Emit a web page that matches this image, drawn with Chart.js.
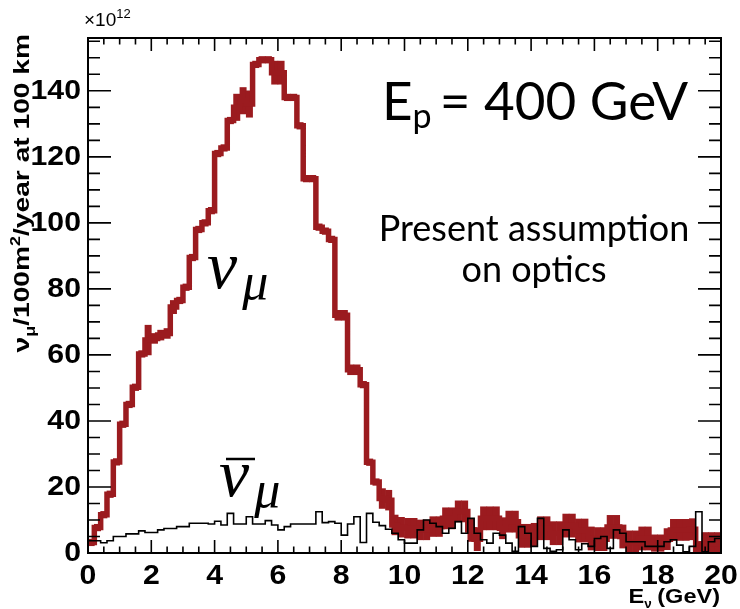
<!DOCTYPE html>
<html>
<head>
<meta charset="utf-8">
<script src="https://cdn.jsdelivr.net/npm/chart.js@4.4.1/dist/chart.umd.min.js"></script>
<style>
  html, body { margin: 0; padding: 0; background: #fff; }
</style>
</head>
<body>
<canvas id="fluxChart" width="740" height="609"></canvas>
<script>
// 100 bins of 0.2 GeV from 0 to 20 GeV
const binEdges = Array.from({ length: 101 }, (_, i) => Math.round(i * 2) / 10);

// nu_mu flux per bin (x10^12 / 100 m^2 / year at 100 km)
const numuFlux = [
  3.2, 7.7, 11.6, 17.8, 27.6, 39, 45, 50.2, 60.3, 64.5,
  65, 66, 66.5, 74.5, 76.5, 80.5, 89.5, 98, 100, 103.7,
  121, 122.7, 131, 135, 137, 136, 148, 149.4, 149.4, 145.5,
  145.5, 138, 138, 129.4, 113.4, 113.4, 98.7, 97.5, 95, 72,
  72, 55.5, 55.5, 51, 27.5, 21.5, 16.5, 16, 8.5, 7.8,
  7.5, 7.5, 7, 7, 8, 8, 10.5, 10.5, 12.6, 12.6,
  7, 4.2, 10.5, 10.5, 10.5, 7.5, 9.5, 9.5, 5.2, 5.2,
  5.5, 7.5, 7.5, 6, 6, 8.3, 8.3, 6.8, 6.8, 4.4,
  4.2, 4.2, 7.9, 7.9, 5, 3.2, 3.2, 4.4, 4.4, 3,
  3, 4.2, 7, 7, 7, 7.2, 1, 2.7, 2.7, 2.7
];

// half height of the red error boxes
const numuErr = [
  1, 1, 1, 1, 1, 1, 1, 1, 1, 4.5,
  1.5, 1.5, 1.5, 2, 1, 1, 1, 1, 1, 1,
  1, 1, 1, 4, 4, 4, 1, 1, 1, 3.5,
  3.5, 1, 1, 1, 1, 1, 1, 1, 1, 1.5,
  1.5, 1.5, 1.5, 1, 1, 1, 3, 3, 3, 3,
  3, 3, 3, 3, 3, 3, 3.2, 3.2, 3.2, 3.2,
  3.5, 3.5, 3.5, 3.5, 3.5, 3.2, 3.2, 3.2, 3.5, 3.5,
  3.5, 3.5, 3.5, 3.5, 3.5, 3.5, 3.5, 3.5, 3.5, 3.5,
  3.5, 3.5, 3.5, 3.5, 3.5, 3.5, 3.5, 3.5, 3.5, 2.5,
  2.5, 3.2, 3.2, 3.2, 3.2, 3.2, 2.5, 3.5, 3.5, 3.5
];

// anti nu_mu flux per bin
const antiNumuFlux = [
  3.7, 3.7, 3.1, 3.7, 5, 5, 5.8, 5.8, 6.7, 6.2,
  6.2, 7, 7.4, 7.4, 8, 8, 9, 9, 9, 8.8,
  9.6, 8.5, 12, 8.8, 8.8, 11, 8.8, 8.8, 9.8, 8.5,
  7, 8, 8.8, 8.8, 8.8, 8.8, 12.5, 9.2, 9.5, 9,
  5.4, 8.8, 11, 3.2, 12, 9.3, 8.3, 7.2, 6, 4,
  3, 3, 7, 10, 9, 8, 6, 7.5, 9.5, 6,
  10.5, 6, 4, 3, 6, 5.4, 3, 0.5, 8, 6,
  2, 10.5, 1.4, 0.5, 1, 7, 4, 1, 2.8, 2,
  4.4, 5, 1.4, 7, 6, 3.4, 3.4, 3.4, 2, 2,
  2, 3.4, 4, 2.4, 0.4, 2, 12.5, 0.4, 3.4, 4.4
];

const RED = "#9b1b1f";
const SANS = "'Liberation Sans', Arial, sans-serif";
const SERIF = "'Liberation Serif', 'DejaVu Serif', serif";
const GILL = "Lato, 'Open Sans', sans-serif";
const TICK_FONT = "bold 27px " + SANS;

function stepPoints(values) {
  const pts = values.map((v, i) => ({ x: binEdges[i], y: v }));
  pts.push({ x: binEdges[values.length], y: values[values.length - 1] });
  return pts;
}

const errorBoxes = numuFlux.map((v, i) => ({
  x: (binEdges[i] + binEdges[i + 1]) / 2,
  y: [Math.max(0, v - numuErr[i]), v + numuErr[i]]
}));

function drawParts(ctx, parts, x, y) {
  let cx = x;
  parts.forEach(p => {
    ctx.font = p.font;
    ctx.fillText(p.t, cx, y + (p.dy || 0));
    cx += ctx.measureText(p.t).width + (p.gap || 0);
  });
  return cx - x;
}

function partsWidth(ctx, parts) {
  let w = 0;
  parts.forEach(p => { ctx.font = p.font; w += ctx.measureText(p.t).width + (p.gap || 0); });
  return w;
}

// the original axis font is a wide bold sans, so stretch it a little
function wideText(ctx, text, x, y) {
  ctx.save();
  ctx.translate(x, y);
  ctx.scale(1.12, 1);
  ctx.fillText(text, 0, 0);
  ctx.restore();
}

const frameAndText = {
  id: "frameAndText",
  afterDatasetsDraw(chart) {
    const { ctx, chartArea: a, scales: { x, y } } = chart;
    ctx.save();
    ctx.strokeStyle = "#000";
    ctx.fillStyle = "#000";

    // ticks on all four sides, pointing inwards
    ctx.lineWidth = 1.6;
    ctx.beginPath();
    for (let k = 0; k <= 40; k++) {
      const px = x.getPixelForValue(k * 0.5);
      const len = k % 4 === 0 ? 13 : 6.5;
      ctx.moveTo(px, a.bottom); ctx.lineTo(px, a.bottom - len);
      ctx.moveTo(px, a.top); ctx.lineTo(px, a.top + len);
    }
    for (let k = 0; k * 5 <= y.max; k++) {
      const py = y.getPixelForValue(k * 5);
      const len = k % 4 === 0 ? 23 : 12;
      ctx.moveTo(a.left, py); ctx.lineTo(a.left + len, py);
      ctx.moveTo(a.right, py); ctx.lineTo(a.right - len, py);
    }
    ctx.stroke();
    ctx.lineWidth = 2;
    ctx.strokeRect(a.left, a.top, a.right - a.left, a.bottom - a.top);

    // tick labels from the scales' own ticks
    ctx.font = TICK_FONT;
    ctx.textAlign = "right";
    ctx.textBaseline = "middle";
    y.ticks.forEach(t => wideText(ctx, String(t.value), a.left - 7, y.getPixelForValue(t.value) + 1));
    ctx.textAlign = "center";
    ctx.textBaseline = "top";
    x.ticks.forEach(t => wideText(ctx, String(t.value), x.getPixelForValue(t.value), a.bottom + 10));

    ctx.textBaseline = "alphabetic";
    ctx.textAlign = "left";

    // exponent
    drawParts(ctx, [
      { t: "\u00d710", font: "19px " + SANS },
      { t: "12", font: "13px " + SANS, dy: -8 }
    ], a.left - 4, 26);

    // y axis title, stretched along the text like the original
    const yTitle = [
      { t: "\u03bd", font: "bold 22px " + SANS },
      { t: "\u03bc", font: "bold 14px " + SANS, dy: 6 },
      { t: "/100m", font: "bold 22px " + SANS },
      { t: "2", font: "bold 14px " + SANS, dy: -9 },
      { t: "/year at 100 km", font: "bold 22px " + SANS }
    ];
    const stretch = 1.28;
    const yw = partsWidth(ctx, yTitle) * stretch;
    ctx.save();
    ctx.translate(29, a.top - 4 + yw);
    ctx.rotate(-Math.PI / 2);
    ctx.scale(stretch, 1);
    drawParts(ctx, yTitle, 0, 0);
    ctx.restore();

    // x axis title
    const xTitle = [
      { t: "E", font: "bold 21px " + SANS },
      { t: "\u03bd", font: "bold 12px " + SANS, dy: 5, gap: 5 },
      { t: "(GeV)", font: "bold 21px " + SANS }
    ];
    const xw = partsWidth(ctx, xTitle) * 1.12;
    ctx.save();
    ctx.translate(a.right - xw - 1, 603);
    ctx.scale(1.12, 1);
    drawParts(ctx, xTitle, 0, 0);
    ctx.restore();

    // beam energy label
    drawParts(ctx, [
      { t: "E", font: "53px " + GILL },
      { t: "p", font: "34px " + GILL, dy: 8, gap: 8 },
      { t: "= 400 GeV", font: "53px " + GILL }
    ], 382, 120);

    ctx.textAlign = "center";
    ctx.font = "36px " + GILL;
    ctx.fillText("Present assumption", 534, 241);
    ctx.fillText("on optics", 534, 282);
    ctx.textAlign = "left";

    // curve labels
    drawParts(ctx, [
      { t: "\u03bd", font: "italic 68px " + SERIF, gap: 5 },
      { t: "\u03bc", font: "italic 52px " + SERIF, dy: 11 }
    ], 207, 288);
    drawParts(ctx, [
      { t: "\u03bd", font: "italic 68px " + SERIF, gap: 5 },
      { t: "\u03bc", font: "italic 52px " + SERIF, dy: 11 }
    ], 219, 496);
    ctx.lineWidth = 2.5;
    ctx.beginPath();
    ctx.moveTo(226, 459);
    ctx.lineTo(255, 459);
    ctx.stroke();

    ctx.restore();
  }
};

const ctx = document.getElementById("fluxChart").getContext("2d");

new Chart(ctx, {
  type: "bar",
  data: {
    datasets: [
      {
        type: "line",
        label: "anti-numu",
        data: stepPoints(antiNumuFlux),
        stepped: true,
        borderColor: "#000",
        borderWidth: 1.6,
        pointRadius: 0,
        fill: false,
        order: 0
      },
      {
        type: "line",
        label: "numu",
        data: stepPoints(numuFlux),
        stepped: true,
        borderColor: RED,
        borderWidth: 5.5,
        pointRadius: 0,
        fill: false,
        order: 1
      },
      {
        type: "bar",
        label: "numu errors",
        data: errorBoxes,
        backgroundColor: RED,
        borderWidth: 0,
        barPercentage: 1,
        categoryPercentage: 1,
        order: 2
      }
    ]
  },
  options: {
    responsive: false,
    animation: false,
    devicePixelRatio: 1,
    layout: { padding: { left: 0, right: 19, top: 38, bottom: 0 } },
    plugins: {
      legend: { display: false },
      tooltip: { enabled: false }
    },
    scales: {
      x: {
        type: "linear",
        min: 0,
        max: 20,
        offset: false,
        grid: { display: false, drawTicks: false },
        border: { display: false },
        ticks: { stepSize: 2, includeBounds: false, display: false },
        afterFit(scale) { scale.height = 56; }
      },
      y: {
        min: 0,
        max: 156,
        grid: { display: false, drawTicks: false },
        border: { display: false },
        ticks: { stepSize: 20, includeBounds: false, display: false },
        afterFit(scale) { scale.width = 88; }
      }
    }
  },
  plugins: [frameAndText]
});
</script>
</body>
</html>
